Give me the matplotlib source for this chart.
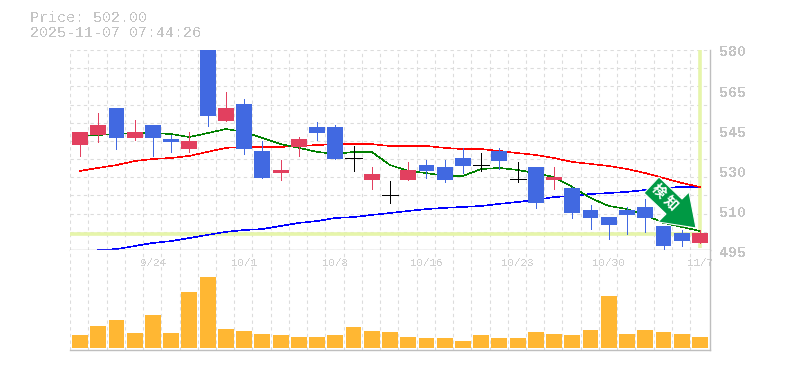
import numpy as np
import matplotlib
matplotlib.use("Agg")
import matplotlib.pyplot as plt
from matplotlib.patches import Polygon

plt.rcParams["font.family"] = ["Liberation Mono", "DejaVu Sans Mono"]
plt.rcParams["text.antialiased"] = False

W, H = 785, 370

# candle data, one entry per session (prices)
body_top = [545.2, 548.1, 555.4, 545.2, 548.1, 542.2, 541.3, 581.3, 555.4, 557.1, 537.1, 529.0,
            542.2, 547.3, 547.3, 534.1, 527.3, 518.4, 529.0, 531.1, 530.3, 534.1, 531.1, 537.1,
            525.2, 530.3, 526.0, 521.4, 512.0, 509.0, 512.0, 513.3, 505.2, 502.2, 502.2]
body_bot = [539.6, 543.9, 542.6, 542.6, 542.6, 540.9, 537.9, 552.0, 549.8, 537.9, 525.6, 527.7,
            538.8, 544.7, 533.7, 534.1, 524.8, 518.4, 524.8, 528.6, 524.8, 530.7, 531.1, 532.8,
            525.2, 515.0, 524.8, 510.7, 508.6, 505.6, 509.9, 508.6, 496.7, 498.8, 498.0]
wick_top = [545.2, 553.2, 555.4, 550.3, 548.1, 543.9, 545.2, 581.3, 562.2, 559.2, 541.3, 533.3,
            543.0, 549.4, 548.1, 539.2, 530.3, 524.3, 532.4, 533.3, 533.3, 538.4, 536.2, 538.4,
            532.4, 530.3, 530.3, 521.8, 514.1, 509.0, 513.3, 516.7, 505.2, 503.5, 503.5]
wick_bot = [535.0, 540.9, 537.9, 541.8, 535.0, 536.7, 536.7, 547.7, 549.8, 535.8, 525.6, 524.8,
            535.0, 541.8, 533.7, 528.6, 520.9, 515.0, 524.8, 525.6, 523.9, 527.7, 528.6, 529.4,
            523.9, 512.9, 520.9, 508.6, 503.9, 499.7, 501.8, 502.7, 494.6, 496.7, 498.0]
candle_kind = list("rrbrbbrbrbbrrbbkrkrbbbkbkbrbbbbbbbr")

ma_short = [543.5, 543.9, 544.3, 544.7, 544.7, 544.3, 543.0, 544.7, 546.4, 545.2, 542.6, 540.0,
            538.4, 536.7, 535.8, 536.7, 536.7, 531.1, 528.6, 527.7, 526.5, 526.5, 529.4, 529.9,
            529.0, 527.7, 526.0, 521.8, 517.1, 513.7, 512.4, 509.9, 506.5, 504.8, 503.1]
ma_mid = [528.6, 529.9, 531.1, 532.8, 533.7, 534.1, 535.0, 536.7, 538.4, 538.8, 538.8, 538.8,
          539.2, 539.6, 540.0, 540.0, 540.0, 539.2, 539.2, 539.2, 538.4, 537.9, 537.9, 537.1,
          536.2, 535.4, 534.1, 532.4, 531.6, 530.7, 529.4, 527.7, 525.6, 523.5, 521.8]
ma_long = [np.nan, 495.0, 495.4, 496.7, 498.0, 498.8, 500.1, 501.4, 502.7, 503.5, 503.9, 505.2,
           506.5, 507.3, 508.6, 509.0, 509.9, 510.7, 511.6, 512.4, 512.9, 513.3, 513.7, 514.6,
           515.4, 516.3, 517.5, 518.0, 518.8, 519.2, 519.7, 520.5, 521.4, 521.8, 521.8]
volume = [13, 22, 28, 15, 33, 15, 56, 71, 19, 17, 14, 13, 11, 11, 13, 21, 17, 16,
          11, 10, 10, 7, 13, 10, 10, 16, 14, 13, 18, 52, 14, 18, 16, 14, 11]

date_pos = [4, 9, 14, 19, 24, 29, 34]
date_labels = ["9/24", "10/1", "10/8", "10/16", "10/23", "10/30", "11/7"]
price_labels = ["580", "565", "545", "530", "510", "495"]
last_price = 502.0

red = "#E2405F"
blue = "#4169E1"
hilite = "#E6F5AA"
grid_c = "#DCDCDC"
axis_c = "#BEBEBE"
text_c = "#C4C4C4"
orange = "#FFB733"

fig = plt.figure(figsize=(W / 100, H / 100), dpi=100, facecolor="white")


def px_axes(x0, y0, x1, y1):
    return fig.add_axes([x0 / W, 1 - y1 / H, (x1 - x0) / W, (y1 - y0) / H])


ax = px_axes(70, 50, 710, 250)
ax_v = px_axes(70, 250, 710, 350)
n = len(volume)
xs = np.arange(n)
xlim = (-0.548, 34.55)

for a in (ax, ax_v):
    a.set_xlim(*xlim)
    a.set_xticks(np.arange(n) - 0.54)
    a.tick_params(length=0, labelbottom=False, labelleft=False)
    a.grid(axis="x", color=grid_c, lw=0.8, ls=(0, (3, 3)))
    a.set_axisbelow(True)
    for s in a.spines.values():
        s.set_visible(False)
    a.spines["right"].set_visible(True)
    a.spines["right"].set_color(axis_c)
    a.spines["right"].set_linewidth(1)
    a.spines["bottom"].set_visible(True)
    a.spines["bottom"].set_color(axis_c)
    a.spines["bottom"].set_linewidth(1)

# price panel
ax.set_ylim(495, 580)
ax.set_yticks(np.linspace(495, 580, 12))
ax.grid(axis="y", color=grid_c, lw=0.8, ls=(0, (3, 3)))

ax.plot([xlim[0], n - 1], [last_price, last_price], color=hilite, lw=2.6, zorder=1.5, solid_capstyle="butt")
ax.plot([n - 1, n - 1], [495.8, 580], color=hilite, lw=2.6, zorder=1.5, solid_capstyle="butt")

ax.plot(xs, ma_long, color="#0000FF", lw=0.4, zorder=2, antialiased=False)
ax.plot(xs, ma_mid, color="#FF0000", lw=0.4, zorder=2, antialiased=False)
ax.plot(xs, ma_short, color="#008000", lw=0.4, zorder=2, antialiased=False)

colors = {"r": red, "b": blue, "k": "black"}
for i in range(n):
    c = colors[candle_kind[i]]
    ax.vlines(i, wick_bot[i], wick_top[i], color=c, lw=0.6, zorder=3, antialiased=False)
    if candle_kind[i] == "k":
        ax.hlines(body_top[i], i - 0.44, i + 0.44, color=c, lw=0.6, zorder=3, antialiased=False)
    else:
        ax.bar(i, body_top[i] - body_bot[i], bottom=body_bot[i], width=0.87, color=c, zorder=3)

# volume panel
ax_v.set_ylim(-2, 98)
ax_v.bar(xs, volume, width=0.87, color=orange, zorder=3)
ax_v.set_yticks([])
for p, lab in zip(date_pos, date_labels):
    ax_v.text(p, 0.875, lab, transform=ax_v.get_xaxis_transform(), ha="center", va="center",
              fontsize=7.8, color="#CFCFCF", zorder=1)

# price labels every 40px
for lab, y in zip(price_labels, [52.5, 93, 133, 173, 213, 253]):
    fig.text(719 / W, 1 - y / H, lab, ha="left", va="center", fontsize=10.8, fontweight="bold", color=text_c)

fig.text(29.5 / W, 1 - 18 / H, "Price: 502.00", ha="left", va="center", fontsize=10.8, color=text_c)
fig.text(29.5 / W, 1 - 33 / H, "2025-11-07 07:44:26", ha="left", va="center", fontsize=10.8, color=text_c)

# signal arrow, in pixel coordinates of the figure
arrow_px = [(659, 177), (644, 193), (666, 214), (658, 222), (696, 228), (689, 192), (682, 199)]
arrow_fig = [(x / W, 1 - y / H) for x, y in arrow_px]
fig.add_artist(Polygon(arrow_fig, closed=True, transform=fig.transFigure, facecolor="#009944",
                       edgecolor="white", lw=0.8, zorder=10))
fig.text(665 / W, 1 - 197 / H, "検 知", rotation=-45, ha="center", va="center", fontsize=10,
         color="white", fontweight="bold", family=["Noto Sans CJK JP", "DejaVu Sans"], zorder=11,
         antialiased=True)

fig.savefig("out.png", dpi=100)
